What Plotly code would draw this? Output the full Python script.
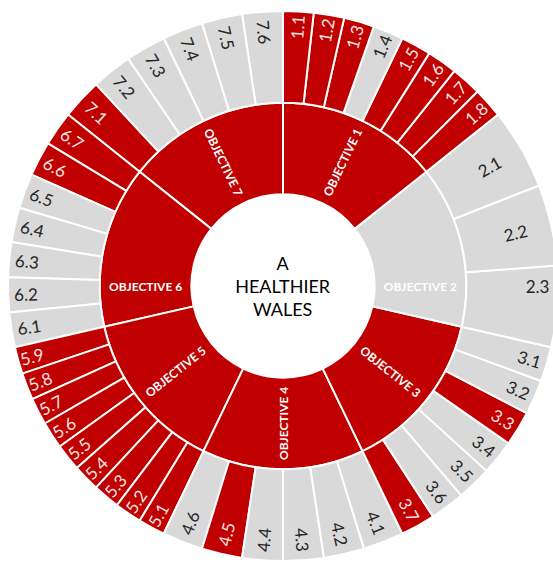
import plotly.graph_objects as go

RED = "#C00000"
GREY = "#D9D9D9"

centre_label = "A<br>HEALTHIER<br>WALES"

objectives = [
    "OBJECTIVE 1",
    "OBJECTIVE 2",
    "OBJECTIVE 3",
    "OBJECTIVE 4",
    "OBJECTIVE 5",
    "OBJECTIVE 6",
    "OBJECTIVE 7",
]
objective_flags = [1, 0, 1, 1, 1, 1, 1]

sub_items = [
    ["1.1", "1.2", "1.3", "1.4", "1.5", "1.6", "1.7", "1.8"],
    ["2.1", "2.2", "2.3"],
    ["3.1", "3.2", "3.3", "3.4", "3.5", "3.6", "3.7"],
    ["4.1", "4.2", "4.3", "4.4", "4.5", "4.6"],
    ["5.1", "5.2", "5.3", "5.4", "5.5", "5.6", "5.7", "5.8", "5.9"],
    ["6.1", "6.2", "6.3", "6.4", "6.5", "6.6", "6.7"],
    ["7.1", "7.2", "7.3", "7.4", "7.5", "7.6"],
]
sub_flags = [
    [1, 1, 1, 0, 1, 1, 1, 1],
    [0, 0, 0],
    [0, 0, 1, 0, 0, 0, 1],
    [0, 0, 0, 0, 1, 0],
    [1, 1, 1, 1, 1, 1, 1, 1, 1],
    [0, 0, 0, 0, 0, 1, 1],
    [1, 0, 0, 0, 0, 0],
]

# every objective gets the same share, split evenly between its sub items
OBJ_SHARE = 504

ids, labels, parents, values = ["root"], [centre_label], [""], [OBJ_SHARE * len(objectives)]
colors, text_colors, text_sizes = ["white"], ["#000000"], [18]

# plotly sunburst runs anticlockwise, so feed everything in reverse
for obj, flag, items, flags in reversed(list(zip(objectives, objective_flags, sub_items, sub_flags))):
    ids.append(obj)
    labels.append("<b>" + obj + "</b>")
    parents.append("root")
    values.append(OBJ_SHARE)
    colors.append(RED if flag else GREY)
    text_colors.append("white")
    text_sizes.append(12)
    for item, f in reversed(list(zip(items, flags))):
        ids.append(item)
        labels.append(item)
        parents.append(obj)
        values.append(OBJ_SHARE // len(items))
        colors.append(RED if f else GREY)
        text_colors.append("#F7E3E3" if f else "#262626")
        text_sizes.append(17)

fig = go.Figure(
    go.Sunburst(
        ids=ids,
        labels=labels,
        parents=parents,
        values=values,
        branchvalues="total",
        sort=False,
        rotation=90,
        marker=dict(colors=colors, line=dict(color="white", width=2)),
        leaf=dict(opacity=1),
        textinfo="label",
        insidetextorientation="radial",
        textfont=dict(family="Lato", color=text_colors, size=text_sizes),
        hoverinfo="label",
    )
)
fig.update_layout(
    width=558,
    height=562,
    margin=dict(l=8, r=0, t=11, b=1),
    paper_bgcolor="white",
    font=dict(family="Lato"),
)

fig.write_html(
    "out.html",
    config={"displayModeBar": False},
    post_script="document.body.style.margin='0';document.body.style.overflow='hidden';",
)
